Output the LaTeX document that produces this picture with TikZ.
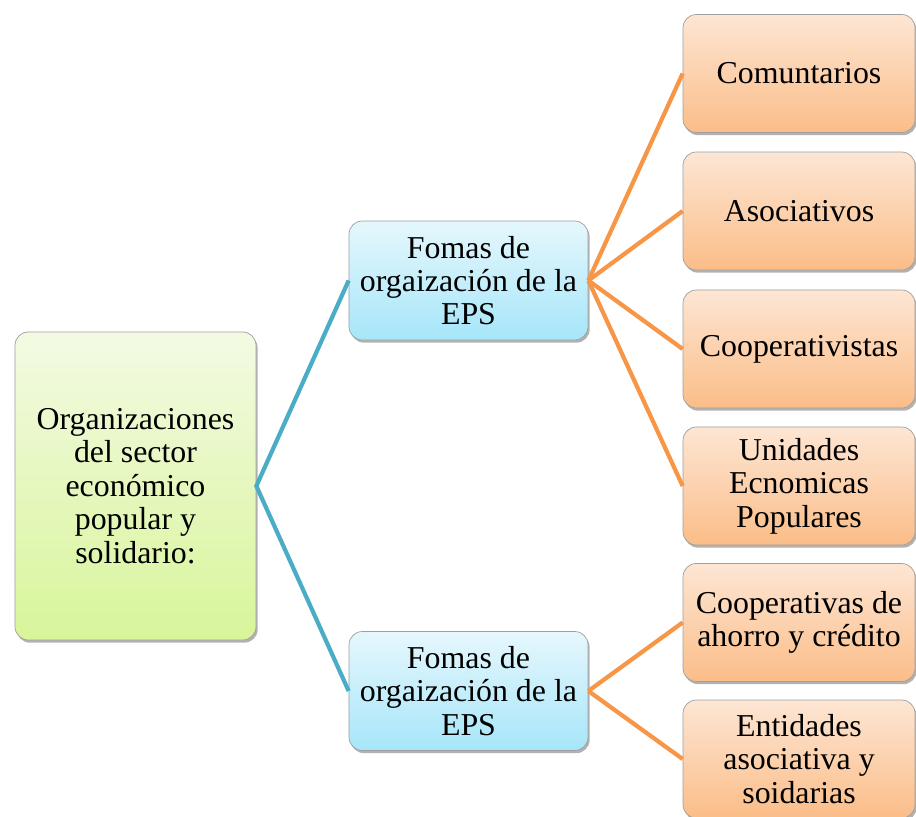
\documentclass[tikz,border=0pt]{standalone}
\usepackage{fontspec}
\setmainfont{Liberation Serif}
\usetikzlibrary{shadows}
\begin{document}
\begin{tikzpicture}[x=0.03cm,y=-0.03cm,
  box/.style={draw=gray!75, line width=0.6pt, rounded corners=0.4cm, align=center,
    inner sep=0pt, font=\fontsize{27.2}{28.5}\selectfont,
    drop shadow={shadow xshift=0.05cm, shadow yshift=-0.08cm, opacity=0.3, fill=black}},
  rootbox/.style={box, minimum width=7.23cm, minimum height=9.24cm,
    top color=green0top, bottom color=green0bot},
  midbox/.style={box, minimum width=7.17cm, minimum height=3.57cm,
    top color=cyantop, bottom color=cyanbot},
  leafbox/.style={box, minimum width=6.96cm, minimum height=3.54cm,
    top color=orangetop, bottom color=orangebot},
  tealline/.style={draw=tealc, line width=3.6pt},
  orangeline/.style={draw=orangec, line width=3.6pt}]
\definecolor{green0top}{HTML}{F3FAE3}
\definecolor{green0bot}{HTML}{D8F59A}
\definecolor{cyantop}{HTML}{E6F7FD}
\definecolor{cyanbot}{HTML}{A6E6F9}
\definecolor{orangetop}{HTML}{FDE6D4}
\definecolor{orangebot}{HTML}{FBBD88}
\definecolor{tealc}{HTML}{4BACC6}
\definecolor{orangec}{HTML}{F79646}
\useasboundingbox (0,0) rectangle (916,817);
\clip (0,0) rectangle (916,817);

\node[rootbox] (root) at (135.5,486) {Organizaciones\\del sector\\económico\\popular y\\solidario:};
\node[midbox] (m1) at (468.5,280.5) {Fomas de\\orgaización de la\\EPS};
\node[midbox] (m2) at (468.5,691) {Fomas de\\orgaización de la\\EPS};

\node[leafbox] (l1) at (799,73.5) {Comuntarios};
\node[leafbox] (l2) at (799,211) {Asociativos};
\node[leafbox] (l3) at (799,349) {Cooperativistas};
\node[leafbox] (l4) at (799,486) {Unidades\\Ecnomicas\\Populares};
\node[leafbox] (l5) at (799,622.5) {Cooperativas de\\ahorro y crédito};
\node[leafbox] (l6) at (799,759) {Entidades\\asociativa y\\soidarias};

\draw[tealline] (m1.west) -- (root.east) -- (m2.west);
\foreach \t in {l1,l2,l3,l4} \draw[orangeline] (m1.east) -- (\t.west);
\foreach \t in {l5,l6} \draw[orangeline] (m2.east) -- (\t.west);
\end{tikzpicture}
\end{document}
